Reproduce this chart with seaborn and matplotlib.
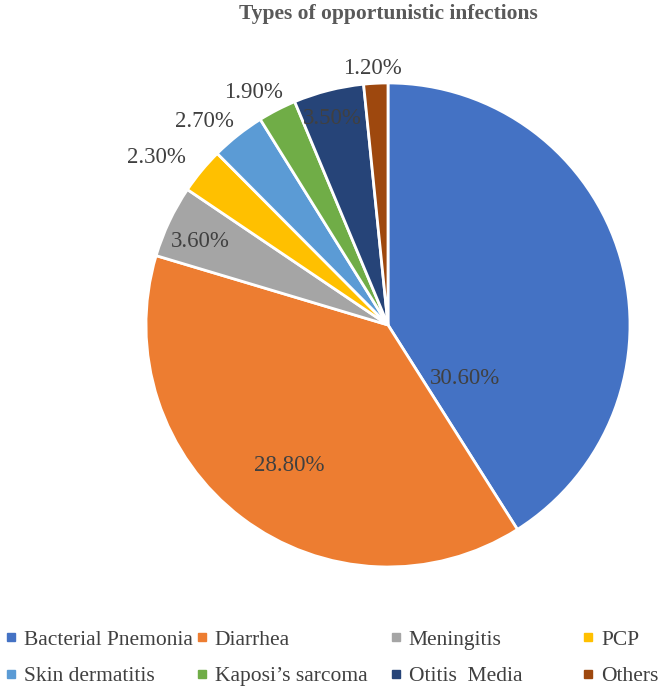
import numpy as np
import matplotlib
matplotlib.use('Agg')
import matplotlib.pyplot as plt
from matplotlib.lines import Line2D
import seaborn as sns

sns.set_theme(style='white')
plt.rcParams['font.family'] = ['Liberation Serif', 'DejaVu Serif']

categories = ['Bacterial Pnemonia', 'Diarrhea', 'Meningitis', 'PCP',
              'Skin dermatitis', 'Kaposi\u2019s sarcoma', 'Otitis  Media', 'Others']
values = [30.6, 28.8, 3.6, 2.3, 2.7, 1.9, 3.5, 1.2]
pct_labels = ['30.60%', '28.80%', '3.60%', '2.30%', '2.70%', '1.90%', '3.50%', '1.20%']

colors = ['#4472C4', '#ED7D31', '#A5A5A5', '#FFC000',
          '#5B9BD5', '#70AD47', '#264478', '#9E480E']
# label placement (radius, angle shift from wedge middle, degrees)
label_r = [0.39, 0.71, 0.85, 1.18, 1.13, 1.11, 0.885, 1.06]
label_shift = [-51, 2, 1.4, 3.7, 3.7, 2.8, 0.7, 0.5]
text_color = '#404040'
serif = ['Liberation Serif', 'DejaVu Serif']

fig = plt.figure(figsize=(6.70, 6.89), dpi=100)
ax = fig.add_axes([0.2179, 0.1771, 0.7224, 0.7025])

wedges, _ = ax.pie(values, colors=colors, startangle=90, counterclock=False,
                   wedgeprops=dict(edgecolor='white', linewidth=2))
ax.set_xlim(-1, 1)
ax.set_ylim(-1, 1)
ax.set_aspect('equal')
ax.axis('off')

for w, lab, r, s in zip(wedges, pct_labels, label_r, label_shift):
    mid = np.deg2rad((w.theta1 + w.theta2) / 2 + s)
    ax.text(r * np.cos(mid), r * np.sin(mid), lab, ha='center', va='center',
            fontsize=16.5, family=serif, color=text_color, clip_on=False)

fig.text(0.579, 0.979, 'Types of opportunistic infections', ha='center', va='center',
         fontsize=15.5, fontweight='bold', family=serif, color='#595959')

col_x = [0.0, 0.285, 0.575, 0.862]
for i, x in enumerate(col_x):
    idx = [i, i + 4]
    handles = [Line2D([], [], marker='s', linestyle='', markersize=6,
                      markerfacecolor=colors[j], markeredgecolor=colors[j]) for j in idx]
    fig.legend(handles, [categories[j] for j in idx], loc='lower left',
               bbox_to_anchor=(x, -0.002), frameon=False,
               prop=dict(family=serif, size=15.5),
               labelcolor=text_color, handlelength=0.6, handletextpad=0.3,
               labelspacing=0.75, borderaxespad=0.0, borderpad=0.2)

fig.savefig('out.png', dpi=100)
